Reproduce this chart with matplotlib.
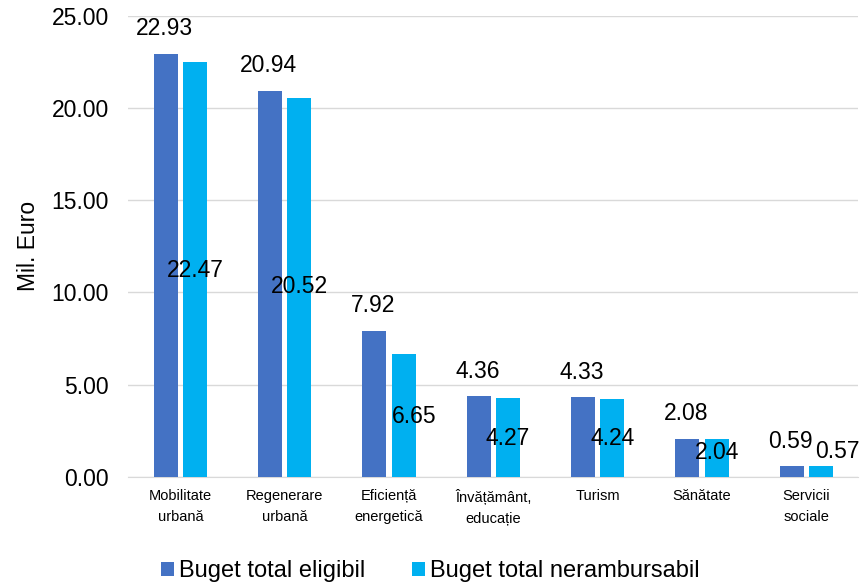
import numpy as np
import matplotlib
matplotlib.use("Agg")
import matplotlib.pyplot as plt

plt.rcParams['font.family'] = ['Liberation Sans', 'DejaVu Sans']

categories = ["Mobilitate\nurbană", "Regenerare\nurbană", "Eficiență\nenergetică",
              "Învățământ,\neducație", "Turism", "Sănătate", "Servicii\nsociale"]
eligibil = [22.93, 20.94, 7.92, 4.36, 4.33, 2.08, 0.59]
nerambursabil = [22.47, 20.52, 6.65, 4.27, 4.24, 2.04, 0.57]
# where the light-blue labels sit (data units), as in the original
ner_label_y = [11.2, 10.3, 3.3, 2.1, 2.1, 1.3, 1.36]
ner_label_dx = [0.0, 0.0, 0.1, 0.0, 0.0, 0.0, 0.16]

blue = "#4472C4"
cyan = "#00B0F0"
fs = 16.5

fig = plt.figure(figsize=(8.61, 5.83), dpi=100)
ax = fig.add_axes([0.149, 0.182, 0.848, 0.791])

x = np.arange(len(categories))
w = 0.23
gap = 0.05
b1 = ax.bar(x - (w + gap) / 2, eligibil, w, color=blue, label="Buget total eligibil", zorder=3)
b2 = ax.bar(x + (w + gap) / 2, nerambursabil, w, color=cyan, label="Buget total nerambursabil", zorder=3)

for xi, v in zip(x, eligibil):
    ax.annotate(f"{v:.2f}", (xi - (w + gap) / 2, v), xytext=(-1, 18), textcoords="offset points",
                ha="center", va="center", fontsize=fs)
for xi, v, ly, dx in zip(x, nerambursabil, ner_label_y, ner_label_dx):
    ax.text(xi + (w + gap) / 2 + dx, ly, f"{v:.2f}", ha="center", va="center", fontsize=fs, zorder=4)

ax.set_ylim(0, 25)
ax.set_xlim(-0.5, len(categories) - 0.5)
ax.set_yticks(np.arange(0, 25.1, 5))
ax.set_yticklabels([f"{t:.2f}" for t in np.arange(0, 25.1, 5)], fontsize=fs)
ax.set_xticks(x)
ax.set_xticklabels(categories, fontsize=10.5, linespacing=1.6)
ax.tick_params(axis="both", length=0)
ax.tick_params(axis="y", pad=14)
ax.tick_params(axis="x", pad=9)
ax.set_ylabel("Mil. Euro", fontsize=fs, labelpad=8)

ax.yaxis.grid(True, color="#D9D9D9", linewidth=1, zorder=0)
for s in ["top", "right", "left"]:
    ax.spines[s].set_visible(False)
ax.spines["bottom"].set_color("#D9D9D9")

fig.legend(handles=[b1, b2], loc="lower center", bbox_to_anchor=(0.5, -0.035), ncol=2,
           frameon=False, fontsize=17, handlelength=0.55, handleheight=0.55,
           handletextpad=0.2, columnspacing=2.0)

fig.savefig("out.png", dpi=100)
